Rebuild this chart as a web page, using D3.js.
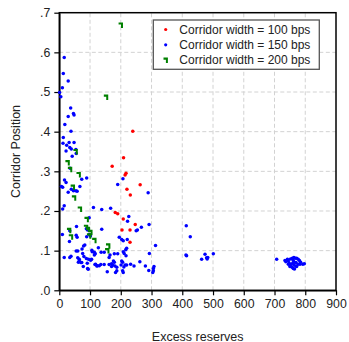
<!DOCTYPE html>
<html>
<head>
<meta charset="utf-8">
<script src="https://cdn.jsdelivr.net/npm/d3@7"></script>
<style>
  body { margin: 0; background: #fff; }
  svg { display: block; font-family: "Liberation Sans", Arial, sans-serif; }
</style>
</head>
<body>
<svg id="chart" width="349" height="342"></svg>
<script>
// values: [excess reserves, corridor position]
const red100 = [
  [239,.401],[172,.313],[209,.334],[217,.295],[214,.291],[220,.255],[263,.266],[231,.240],
  [182,.196],[190,.193],[208,.180],[247,.166],[204,.152],[230,.152],[230,.121]
];

const blue150 = [
  // upper left
  [16,.587],[13,.547],[29,.528],[10,.511],[1,.499],[5,.488],[37,.460],[46,.446],[48,.442],[29,.438],
  [18,.418],[38,.401],[13,.385],[12,.371],[32,.373],[48,.373],[24,.366],[34,.360],[39,.356],[54,.355],
  [22,.351],[55,.345],[42,.338],[35,.308],
  // .2 - .3
  [89,.283],[73,.280],[17,.278],[22,.272],[7,.262],[11,.260],[67,.262],[39,.255],[46,.251],[54,.251],
  [58,.250],[29,.247],[207,.281],[190,.267],[289,.246],[11,.205],[16,.213],[111,.209],[138,.204],[167,.207],
  // .1 - .2
  [226,.186],[222,.174],[267,.159],[292,.166],[413,.163],[426,.135],[56,.161],[97,.183],[10,.141],[34,.150],
  [55,.139],[58,.134],[33,.123],[89,.135],[92,.152],[88,.155],[98,.141],[101,.137],[138,.154],[127,.107],
  [79,.112],[74,.104],[83,.114],[55,.099],[60,.099],[106,.101],[136,.096],[146,.096],[195,.134],[203,.128],
  [208,.125],[221,.128],[216,.102],[219,.106],[250,.150],[254,.152],[313,.113],[208,.097],[211,.093],[179,.092],
  [190,.092],[217,.087],[293,.093],[114,.096],[117,.092],[165,.089],
  // below .1
  [16,.083],[34,.083],[38,.086],[65,.078],[62,.071],[70,.070],[76,.093],[80,.085],[60,.082],[65,.074],
  [73,.070],[91,.068],[92,.055],[107,.097],[102,.076],[116,.065],[124,.062],[135,.065],[156,.047],[162,.065],
  [162,.083],[176,.074],[179,.071],[174,.064],[181,.061],[187,.058],[187,.049],[183,.045],[203,.074],[206,.071],
  [201,.064],[214,.064],[210,.059],[206,.049],[208,.045],[232,.066],[243,.061],[262,.072],[280,.061],[291,.050],
  [306,.055],[308,.060],[306,.049],[304,.045],[78,.060],[94,.053],[118,.066],[122,.061],[130,.062],[146,.065],
  [170,.067],[170,.060],[88,.080],[95,.078],[219,.064],[114,.089],[105,.078],
  // 400 - 500
  [412,.089],[414,.087],[463,.078],[474,.091],[479,.082],[483,.083],[481,.079],[501,.092],
  // cluster near 750
  [707,.078],[734,.075],[737,.072],[742,.078],[745,.074],[752,.079],[758,.081],[763,.083],[767,.081],[772,.081],
  [777,.078],[781,.075],[785,.071],[792,.066],[797,.067],[761,.075],[764,.071],[770,.070],[759,.068],[763,.064],
  [769,.061],[757,.058],[761,.055],[765,.054],[772,.060],[748,.068],[752,.064],[745,.066],[777,.066],[783,.066],
  [750,.060]
];

const green200 = [
  [200,.669],[152,.487],[53,.350],[27,.322],[35,.305],[63,.292],[44,.260],[48,.233],[67,.205],[89,.179],
  [87,.159],[93,.154],[101,.146],[97,.137],[32,.151],[38,.135],[114,.126],[156,.100],[159,.112]
];

const xTicks = [0,100,200,300,400,500,600,700,800,900];
const yTicks = [0,.1,.2,.3,.4,.5,.6,.7];
const legendLabels = ["Corridor width = 100 bps","Corridor width = 150 bps","Corridor width = 200 bps"];
const colors = ["#ff0000","#0000ff","#008000"];

const W = 349, H = 342;
const m = {left: 59.3, right: 13, top: 12.7, bottom: 51.7};

const svg = d3.select("#chart");

const x = d3.scaleLinear().domain([0, 900]).range([m.left, W - m.right]);
const y = d3.scaleLinear().domain([0, .7]).range([H - m.bottom, m.top]);

// grid
const grid = svg.append("g")
  .attr("stroke", "#d2d2d2")
  .attr("stroke-width", 1)
  .attr("stroke-dasharray", "4,2.5");
grid.selectAll("line.gx")
  .data(xTicks.filter(d => d > 0 && d < 900))
  .join("line")
    .attr("x1", d => x(d)).attr("x2", d => x(d))
    .attr("y1", y(0)).attr("y2", y(.7));
grid.selectAll("line.gy")
  .data(yTicks.filter(d => d > 0 && d < .7))
  .join("line")
    .attr("class", "gy")
    .attr("x1", x(0)).attr("x2", x(900))
    .attr("y1", d => y(d)).attr("y2", d => y(d));

// frame (top / right)
svg.append("rect")
  .attr("x", x(0)).attr("y", y(.7))
  .attr("width", x(900) - x(0)).attr("height", y(0) - y(.7))
  .attr("fill", "none").attr("stroke", "#000").attr("stroke-width", 1.5);

// axes
const fmtY = d => d3.format(".1f")(d).replace(/^0/, "");
const yAxis = svg.append("g")
  .attr("transform", `translate(${x(0)},0)`)
  .call(d3.axisLeft(y).tickValues(yTicks).tickFormat(fmtY).tickSize(5).tickSizeOuter(0).tickPadding(4));
const xAxis = svg.append("g")
  .attr("transform", `translate(0,${y(0)})`)
  .call(d3.axisBottom(x).tickValues(xTicks).tickFormat(d3.format("d")).tickSize(5).tickSizeOuter(0).tickPadding(4));

[yAxis, xAxis].forEach(a => {
  a.select(".domain").attr("stroke", "#000").attr("stroke-width", 1.5);
  a.selectAll(".tick line").attr("stroke", "#000").attr("stroke-width", 1.2);
  a.selectAll("text").attr("fill", "#222").attr("font-size", 12.3)
    .attr("font-family", "'Liberation Sans', Arial, sans-serif");
});

// marks
const flag = "M-2.2,-2.6H2.2V2.9H0.2V-0.4H-2.2Z";

svg.append("g").selectAll("circle")
  .data(blue150).join("circle")
    .attr("cx", d => x(d[0])).attr("cy", d => y(d[1]))
    .attr("r", 1.75).attr("fill", colors[1]);

svg.append("g").selectAll("path")
  .data(green200).join("path")
    .attr("transform", d => `translate(${x(d[0])},${y(d[1])})`)
    .attr("d", flag).attr("fill", colors[2]);

svg.append("g").selectAll("circle")
  .data(red100).join("circle")
    .attr("cx", d => x(d[0])).attr("cy", d => y(d[1]))
    .attr("r", 1.75).attr("fill", colors[0]);

// axis titles
svg.append("text")
  .attr("x", (x(0) + x(900)) / 2).attr("y", 340.5)
  .attr("text-anchor", "middle").attr("font-size", 12.5).attr("fill", "#222")
  .text("Excess reserves");
svg.append("text")
  .attr("transform", `translate(20,${(y(0) + y(.7)) / 2}) rotate(-90)`)
  .attr("text-anchor", "middle").attr("font-size", 12.5).attr("fill", "#222")
  .text("Corridor Position");

// legend
const lg = svg.append("g");
lg.append("rect")
  .attr("x", 153.3).attr("y", 20).attr("width", 166).attr("height", 49.3)
  .attr("fill", "#fff").attr("stroke", "#555").attr("stroke-width", 1.3);
const rows = lg.selectAll("g.row")
  .data(legendLabels).join("g")
    .attr("transform", (d, i) => `translate(165.7,${29.5 + i * 15.3})`);
rows.each(function(d, i) {
  const r = d3.select(this);
  if (i < 2) r.append("circle").attr("r", 1.6).attr("fill", colors[i]);
  else r.append("path").attr("d", flag).attr("fill", colors[i]);
  r.append("text").attr("x", 13.6).attr("dy", "0.35em")
    .attr("font-size", 12).attr("fill", "#222").text(d);
});
</script>
</body>
</html>
